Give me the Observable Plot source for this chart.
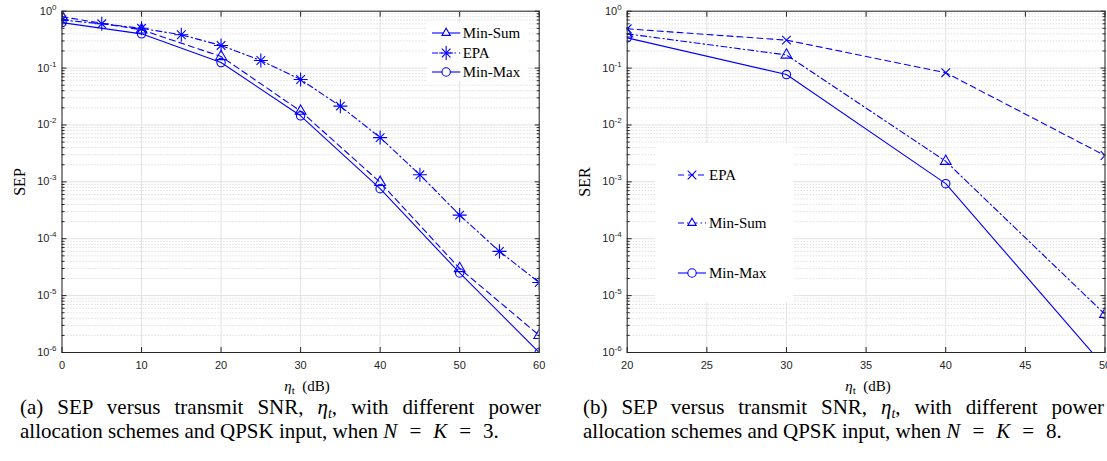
<!DOCTYPE html>
<html><head><meta charset="utf-8">
<script src="https://cdn.jsdelivr.net/npm/d3@7"></script>
<script src="https://cdn.jsdelivr.net/npm/@observablehq/plot@0.6"></script>
<style>
body{margin:0;background:#fff;}
#wrap{position:relative;width:1107px;height:461px;overflow:hidden;background:#fff;}
.svgbox{position:absolute;top:0;}
.serif{font-family:"Liberation Serif","Times New Roman",serif;color:#000;}
.ylab{position:absolute;transform:translate(-50%,-50%) rotate(-90deg);font-size:16px;white-space:nowrap;}
.xlab{position:absolute;transform:translate(-50%,-50%);font-size:15px;white-space:nowrap;}
.xlab sub{font-size:11px;vertical-align:-3px;line-height:0;font-style:normal;}
.leg{position:absolute;background:#fff;}
.legsvg{position:absolute;}
.legtxt{position:absolute;transform:translateY(-50%);font-size:15px;white-space:nowrap;line-height:1;}
.cap{position:absolute;width:521px;font-size:21px;line-height:24px;}
.cap .l1{text-align:justify;text-align-last:justify;white-space:nowrap;}
.cap .l2{white-space:nowrap;}
.cap sub{font-size:14px;vertical-align:-4px;line-height:0;}
.cap .eq{margin:0 12px;}
</style></head>
<body>
<div id="wrap"></div>
<script>
// ---------- data ----------
const yMajor = [1e-6, 1e-5, 1e-4, 1e-3, 1e-2, 1e-1, 1];
const yMinorMult = [2, 3, 4, 5, 6, 7, 8, 9];
const yMinor = yMajor.slice(0, -1).flatMap(d => yMinorMult.map(m => m * d));

const xTicksA = [0, 10, 20, 30, 40, 50, 60];
const xTicksB = [20, 25, 30, 35, 40, 45, 50];

// (a) N = K = 3
const snrA = [0, 10, 20, 30, 40, 50, 60];
const sepA_minSum = [0.80, 0.47, 0.16, 0.0175, 0.00098, 3.0e-5, 2.0e-6];
const sepA_minMax = [0.63, 0.40, 0.125, 0.0145, 7.6e-4, 2.5e-5, 1.0e-6];
const snrA_epa = [0, 5, 10, 15, 20, 25, 30, 35, 40, 45, 50, 55, 60];
const sepA_epa = [0.70, 0.60, 0.50, 0.385, 0.25, 0.136, 0.063, 0.0214, 0.0060, 0.00133, 2.6e-4, 6.0e-5, 1.7e-5];

// (b) N = K = 8
const snrB = [20, 30, 40, 50];
const serB_epa = [0.49, 0.31, 0.083, 0.0029];
const serB_minSum = [0.40, 0.17, 0.0023, 4.7e-6];
const serB_minMax = [0.34, 0.077, 9.3e-4, 5.5e-7];

// ---------- styles ----------
const BLUE = "#0000ff";
const AX = "#262626";
const DASH = "6,4";
const DASHDOT = "6,3,1.5,3";
const SYM = {
  triangle: [{name: "triangle", r: 4}],
  asterisk: [{name: "plus", r: 4.6}, {name: "times", r: 4}],
  circle: [{name: "circle", r: 4.2}],
  times: [{name: "times", r: 4}]
};
const D3SYM = {triangle: d3.symbolTriangle2, plus: d3.symbolPlus, times: d3.symbolTimes, circle: d3.symbolCircle};

const wrap = document.getElementById("wrap");

function makePlot({left, width, height, marginLeft, marginRight, xDomain, xTicks, series}) {
  const marks = [
    Plot.gridY(yMinor, {stroke: "#bcbcbc", strokeOpacity: 1, strokeWidth: 0.7, strokeDasharray: "1,2"}),
    Plot.gridY(yMajor, {stroke: "#e2e2e2", strokeOpacity: 1, strokeWidth: 1}),
    Plot.gridX(xTicks, {stroke: "#e2e2e2", strokeOpacity: 1, strokeWidth: 1})
  ];
  for (const s of series) {
    const data = s.x.map((x, i) => ({x, y: s.y[i]}));
    marks.push(Plot.line(data, {x: "x", y: "y", stroke: BLUE, strokeWidth: 1.1, strokeDasharray: s.dash, clip: true}));
    for (const sym of SYM[s.symbol]) {
      marks.push(Plot.dot(data, {x: "x", y: "y", symbol: sym.name, r: sym.r, stroke: BLUE, fill: "none", strokeWidth: 1.1, clip: true}));
    }
  }
  marks.push(
    Plot.frame({stroke: AX, strokeWidth: 1}),
    Plot.axisY(yMinor, {anchor: "left", tickSize: -3, tickFormat: () => "", label: null, stroke: AX}),
    Plot.axisY(yMinor, {anchor: "right", tickSize: -3, tickFormat: () => "", label: null, stroke: AX}),
    Plot.axisY(yMajor, {anchor: "left", tickSize: -5, tickPadding: 10.5, tickFormat: d => String(Math.round(Math.log10(d))), label: null, stroke: AX}),
    Plot.axisY(yMajor, {anchor: "right", tickSize: -5, tickFormat: () => "", label: null, stroke: AX}),
    Plot.axisX(xTicks, {anchor: "bottom", tickSize: -5, tickPadding: 14, label: null, stroke: AX}),
    Plot.axisX(xTicks, {anchor: "top", tickSize: -5, tickFormat: () => "", label: null, stroke: AX})
  );
  const svg = Plot.plot({
    width, height, marginLeft, marginRight, marginTop: 10.7, marginBottom: height - 352,
    x: {domain: xDomain, axis: null},
    y: {type: "log", domain: [1e-6, 1], axis: null},
    style: {fontFamily: "'Liberation Sans', Arial, sans-serif", fontSize: "11px", color: AX, background: "transparent", overflow: "visible"},
    marks
  });
  d3.select(svg).selectAll('g[aria-label="y-axis tick label"] text').each(function () {
    const e = this.textContent;
    if (!e) return;
    const t = d3.select(this);
    t.text(null);
    t.append("tspan").text("10");
    t.append("tspan").attr("dy", "-5").attr("font-size", "8px").text(e);
  });
  const box = document.createElement("div");
  box.className = "svgbox";
  box.style.left = left + "px";
  box.appendChild(svg);
  wrap.appendChild(box);
}

makePlot({
  left: 0, width: 553, height: 400, marginLeft: 61.5, marginRight: 14.3,
  xDomain: [0, 60], xTicks: xTicksA,
  series: [
    {x: snrA, y: sepA_minSum, dash: DASH, symbol: "triangle"},
    {x: snrA_epa, y: sepA_epa, dash: DASHDOT, symbol: "asterisk"},
    {x: snrA, y: sepA_minMax, dash: null, symbol: "circle"}
  ]
});
makePlot({
  left: 553, width: 554, height: 400, marginLeft: 73.7, marginRight: 2.5,
  xDomain: [20, 50], xTicks: xTicksB,
  series: [
    {x: snrB, y: serB_epa, dash: DASH, symbol: "times"},
    {x: snrB, y: serB_minSum, dash: DASHDOT, symbol: "triangle"},
    {x: snrB, y: serB_minMax, dash: null, symbol: "circle"}
  ]
});

// ---------- axis labels ----------
function addHTML(cls, html, x, y) {
  const d = document.createElement("div");
  d.className = cls + " serif";
  d.innerHTML = html;
  d.style.left = x + "px";
  d.style.top = y + "px";
  wrap.appendChild(d);
  return d;
}
addHTML("ylab", "SEP", 20, 182);
addHTML("ylab", "SER", 585, 182);
addHTML("xlab", "<i>η</i><sub>t</sub>&nbsp; (dB)", 307, 386);
addHTML("xlab", "<i>η</i><sub>t</sub>&nbsp; (dB)", 868, 386);

// ---------- legends ----------
function legend(box, rows) {
  const b = document.createElement("div");
  b.className = "leg";
  Object.assign(b.style, {left: box.x + "px", top: box.y + "px", width: box.w + "px", height: box.h + "px"});
  wrap.appendChild(b);
  for (const r of rows) {
    const w = r.x1 - r.x0;
    const svg = d3.create("svg").attr("class", "legsvg").attr("width", w).attr("height", 14)
      .style("left", r.x0 + "px").style("top", (r.y - 7) + "px").style("overflow", "visible");
    svg.append("line").attr("x1", 0).attr("x2", w).attr("y1", 7).attr("y2", 7)
      .attr("stroke", BLUE).attr("stroke-width", 1.1).attr("stroke-dasharray", r.dash || null);
    for (const sym of SYM[r.symbol]) {
      svg.append("path").attr("d", d3.symbol(D3SYM[sym.name], Math.PI * sym.r * sym.r)())
        .attr("transform", `translate(${w / 2},7)`).attr("fill", "#fff").attr("stroke", BLUE).attr("stroke-width", 1.1);
    }
    wrap.appendChild(svg.node());
    const t = document.createElement("div");
    t.className = "legtxt serif";
    t.textContent = r.label;
    t.style.left = r.tx + "px";
    t.style.top = r.y + "px";
    wrap.appendChild(t);
  }
}
legend({x: 427, y: 23, w: 101, h: 58}, [
  {label: "Min-Sum", symbol: "triangle", dash: null, x0: 431.7, x1: 460, tx: 462.7, y: 33.3},
  {label: "EPA", symbol: "asterisk", dash: DASHDOT, x0: 431.7, x1: 460, tx: 462.7, y: 52.8},
  {label: "Min-Max", symbol: "circle", dash: null, x0: 431.7, x1: 460, tx: 462.7, y: 71.7}
]);
legend({x: 655, y: 143, w: 138, h: 159}, [
  {label: "EPA", symbol: "times", dash: DASH, x0: 678, x1: 706, tx: 709, y: 175},
  {label: "Min-Sum", symbol: "triangle", dash: DASHDOT, x0: 678, x1: 706, tx: 709, y: 222.7},
  {label: "Min-Max", symbol: "circle", dash: null, x0: 678, x1: 706, tx: 709, y: 272.7}
]);

// ---------- captions ----------
function caption(x, l1, l2) {
  const c = document.createElement("div");
  c.className = "cap serif";
  c.style.left = x + "px";
  c.style.top = "395px";
  c.innerHTML = `<div class="l1">${l1}</div><div class="l2">${l2}</div>`;
  wrap.appendChild(c);
}
caption(20, "(a) SEP versus transmit SNR, <i>η<sub>t</sub></i>, with different power",
  "allocation schemes and QPSK input, when <i>N</i><span class=\"eq\">=</span><i>K</i><span class=\"eq\">=</span>3.");
caption(583, "(b) SEP versus transmit SNR, <i>η<sub>t</sub></i>, with different power",
  "allocation schemes and QPSK input, when <i>N</i><span class=\"eq\">=</span><i>K</i><span class=\"eq\">=</span>8.");
</script>
</body></html>
